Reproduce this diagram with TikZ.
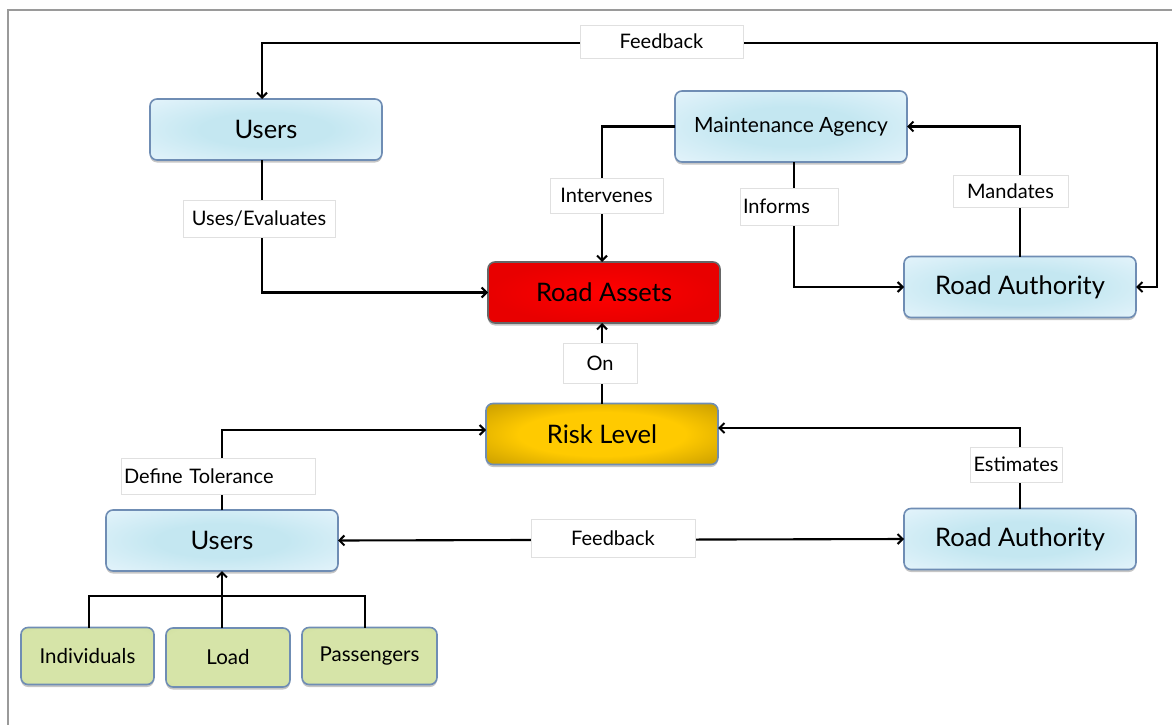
\documentclass[tikz,border=0pt]{standalone}
\usepackage{fontspec}
\setmainfont{Lato}
\usetikzlibrary{arrows.meta,shadows,calc}
\definecolor{boxedge}{HTML}{6F8DB4}
\definecolor{bluein}{HTML}{C4E7F1}
\definecolor{blueout}{HTML}{EAF6FD}
\definecolor{goldin}{HTML}{FFCA00}
\definecolor{goldout}{HTML}{A88200}
\definecolor{redin}{HTML}{FF0000}
\definecolor{redout}{HTML}{E80000}
\definecolor{greenin}{HTML}{D6E4A8}
\definecolor{greenout}{HTML}{C3D58F}
\definecolor{frame}{HTML}{9A9A9A}
\pgfdeclareradialshading{goldshade}{\pgfpoint{0bp}{0bp}}{%
  color(0bp)=(goldin); color(18bp)=(goldin); color(42bp)=(goldout!85!goldin); color(50bp)=(goldout)}
\pgfdeclareradialshading{blueshade}{\pgfpoint{0bp}{0bp}}{%
  color(0bp)=(bluein); color(14bp)=(bluein); color(40bp)=(blueout); color(50bp)=(blueout)}
\pgfdeclareradialshading{greenshade}{\pgfpoint{0bp}{0bp}}{%
  color(0bp)=(greenin); color(30bp)=(greenin); color(50bp)=(greenout)}
\begin{document}
\begin{tikzpicture}[x=1pt,y=-1pt,
  >={Straight Barb[length=5pt,width=10pt]},
  wire/.style={line width=2.1pt,black},
  base/.style={rounded corners=7pt,line width=1.6pt,draw=boxedge,
    minimum width=232pt,minimum height=61pt,outer sep=0pt,
    drop shadow={shadow xshift=0pt,shadow yshift=-2.5pt,opacity=0.45}},
  bluebox/.style={base,shading=blueshade,font=\fontsize{25.5}{28}\selectfont},
  redbox/.style={base,draw=black!60,inner color=redin,outer color=redout,font=\fontsize{25.5}{28}\selectfont},
  goldbox/.style={base,shading=goldshade,font=\fontsize{25.5}{28}\selectfont},
  greenbox/.style={base,shading=greenshade,minimum height=57pt,font=\fontsize{20.5}{23}\selectfont},
  tag/.style={fill=white,draw=black!12,line width=0.6pt,inner sep=0pt,font=\fontsize{20}{23}\selectfont}
]
\useasboundingbox (0,0) rectangle (1172,725);
% page frame
\draw[frame,line width=1.2pt] (8,725) -- (8,10) -- (1172,10);

% boxes
\node[bluebox] (ua) at (266,129.5) {Users};
\node[bluebox,minimum height=71pt,font=\fontsize{21}{24}\selectfont] (ma) at (791,126.5) {Maintenance Agency};
\node[redbox] (ra) at (604,292.5) {Road Assets};
\node[bluebox] (rat) at (1020,287) {Road Authority};
\node[goldbox] (rl) at (602,434) {Risk Level};
\node[bluebox] (ub) at (222,540.5) {Users};
\node[bluebox] (rab) at (1020,539) {Road Authority};
\node[greenbox,minimum width=133pt] (ind) at (87.5,656) {Individuals};
\node[greenbox,minimum width=124pt,minimum height=59pt] (load) at (228,657.5) {Load};
\node[greenbox,minimum width=135pt] (pas) at (369.5,656) {Passengers};

% waypoints
\coordinate (f1) at (262,43);
\coordinate (f2) at (1157,43);
\coordinate (iv) at (602,126.5);

% connectors
\draw[wire,<->] (ua.north -| f1) -- (f1) -- (f2) |- (rat.east);
\draw[wire,->] (ua.south -| f1) |- (ra.west);
\draw[wire,->] (ma.west) -- (iv) -- (iv |- ra.north);
\draw[wire,->] (ma.south -| 794,0) |- (rat.west);
\draw[wire,->] (rat.north) |- (ma.east);
\draw[wire,->] (rl.north) -- (rl.north |- ra.south);
\draw[wire,->] (ub.north) |- ($(rl.west)+(0,-4)$);
\draw[wire,->] (rab.north) |- ($(rl.east)+(0,-6)$);
\draw[wire,<->] (ub.east) -- (rab.west);
\draw[wire,->] (load.north -| ub.south) -- (ub.south);
\draw[wire] (ind.north -| 89,0) -- (89,596) -- (365,596) -- (pas.north -| 365,0);

% connector labels
\node[tag,minimum width=163pt,minimum height=33pt] at (661.5,41.5) {Feedback};
\node[tag,minimum width=152pt,minimum height=37pt] at (259,218.5) {Uses/Evaluates};
\node[tag,minimum width=113pt,minimum height=35pt] at (606.5,195.5) {Intervenes};
\node[tag,minimum width=98pt,minimum height=37pt,text width=92pt,align=left] at (789,206.5) {Informs};
\node[tag,minimum width=115pt,minimum height=32pt] at (1010.5,191) {Mandates};
\node[tag,minimum width=74pt,minimum height=40pt] at (600,363) {On};
\node[tag,minimum width=194pt,minimum height=36pt,text width=188pt,align=left] at (218,476) {Define Tolerance};
\node[tag,minimum width=92pt,minimum height=35pt] at (1016,464.5) {Estimates};
\node[tag,minimum width=164pt,minimum height=38pt] at (613,538) {Feedback};
\end{tikzpicture}
\end{document}
